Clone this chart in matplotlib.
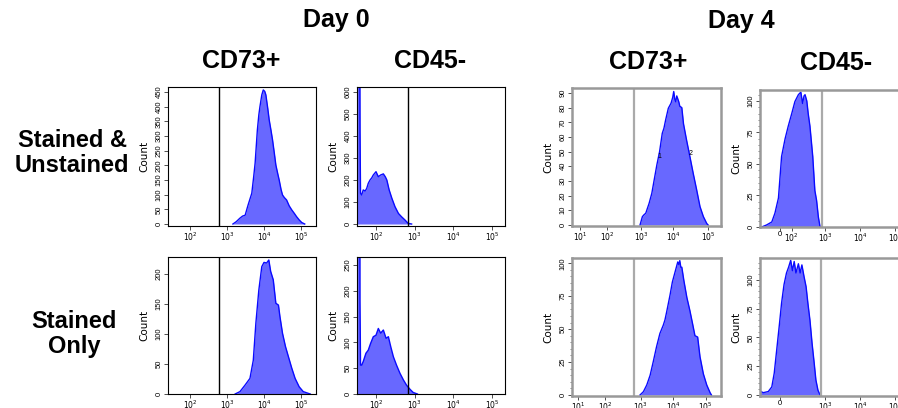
import numpy as np
import matplotlib.pyplot as plt
from matplotlib.ticker import FixedLocator, LogLocator, MultipleLocator, NullFormatter

plt.rcParams['font.family'] = ['Liberation Sans', 'DejaVu Sans']

# histogram traces: log10(intensity) and cell count
# Day 0, CD73+, stained & unstained
d0_cd73_a_log = [3.16, 3.25, 3.35, 3.42, 3.49, 3.57, 3.67, 3.72, 3.76, 3.82, 3.86, 3.89, 3.94,
                 3.98, 4.02, 4.05, 4.10, 4.14, 4.19, 4.23, 4.28, 4.32, 4.37, 4.41, 4.46, 4.50,
                 4.55, 4.61, 4.68, 4.75, 4.82, 4.88, 4.95, 5.02, 5.10]
d0_cd73_a_cnt = [0, 8, 20, 27, 30, 65, 105, 160, 208, 320, 372, 400, 440,
                 457, 452, 440, 395, 355, 318, 287, 240, 201, 172, 150, 118, 99,
                 90, 82, 62, 48, 36, 25, 14, 5, 0]
# Day 0, CD45-, stained & unstained
d0_cd45_a_log = [1.51, 1.52, 1.57, 1.587, 1.60, 1.63, 1.67, 1.72, 1.76, 1.80, 1.845, 1.89, 1.93,
                 2.00, 2.06, 2.12, 2.19, 2.24, 2.28, 2.34, 2.41, 2.49, 2.58, 2.66, 2.75,
                 2.83, 2.92]
d0_cd45_a_cnt = [1500, 1500, 1500, 427, 140, 132, 155, 150, 162, 185, 200, 210, 223,
                 238, 215, 223, 228, 215, 200, 155, 117, 79, 48, 33, 18,
                 3, 0]
# Day 4, CD73+, stained & unstained
d4_cd73_a_log = [2.98, 3.05, 3.10, 3.15, 3.25, 3.33, 3.40, 3.48, 3.56, 3.64, 3.69, 3.74, 3.82,
                 3.90, 3.95, 3.98, 4.01, 4.04, 4.07, 4.10, 4.13, 4.16, 4.22, 4.27, 4.36,
                 4.46, 4.56, 4.66, 4.76, 4.86, 4.96, 5.00]
d4_cd73_a_cnt = [0, 5.7, 7, 8, 14.8, 21.6, 30.7, 41, 50, 62.5, 66, 71.6, 79.6,
                 83, 87, 91, 86, 84, 88, 86, 84, 81, 80, 69, 58,
                 46.6, 35, 24, 12.5, 5.7, 1, 0]
# Day 4, CD45-, stained & unstained
d4_cd45_a_log = [1.19, 1.33, 1.48, 1.57, 1.67, 1.76, 1.86, 1.95, 2.05, 2.14, 2.24, 2.31, 2.36,
                 2.40, 2.43, 2.48, 2.52, 2.57, 2.65, 2.71, 2.76, 2.81, 2.86]
d4_cd45_a_cnt = [0, 1.6, 4, 11, 23, 56, 70, 80, 90, 99.5, 105, 107, 98,
                 104, 105, 100, 90, 80, 56, 29, 21, 8, 0]
# Day 0, CD73+, stained only
d0_cd73_b_log = [3.22, 3.35, 3.49, 3.62, 3.71, 3.78, 3.86, 3.94, 4.00, 4.07, 4.13, 4.18, 4.25,
                 4.32, 4.39, 4.43, 4.50, 4.58, 4.66, 4.75, 4.84, 4.95, 5.06, 5.20, 5.25]
d0_cd73_b_cnt = [0, 4, 15, 26, 56, 118, 173, 212, 219, 218, 223, 204, 190,
                 151, 148, 129, 101, 79, 62, 43, 26, 12, 4, 1, 0]
# Day 0, CD45-, stained only
d0_cd45_b_log = [1.51, 1.52, 1.57, 1.587, 1.60, 1.63, 1.67, 1.74, 1.80, 1.86, 1.93, 2.00, 2.06,
                 2.12, 2.19, 2.26, 2.32, 2.38, 2.45, 2.53, 2.62, 2.71, 2.79, 2.88, 2.96,
                 3.07]
d0_cd45_b_cnt = [2000, 2000, 2000, 182, 56, 56, 63, 79, 85, 98, 111, 114, 127,
                 118, 124, 108, 111, 92, 72, 56, 40, 27, 17, 9, 3,
                 0]
# Day 4, CD73+, stained only
d4_cd73_b_log = [2.98, 3.08, 3.18, 3.28, 3.37, 3.47, 3.57, 3.67, 3.72, 3.77, 3.87, 3.94, 4.02,
                 4.10, 4.13, 4.16, 4.19, 4.22, 4.28, 4.37, 4.46, 4.54, 4.61, 4.69, 4.76,
                 4.86, 4.96, 5.06, 5.10]
d4_cd73_b_cnt = [0, 2.5, 7.6, 15, 25, 36.6, 46.7, 53, 57, 63, 75.8, 85.8, 93.4,
                 101, 99, 102, 97, 97, 87, 74, 64, 54, 45, 44, 29,
                 16, 7.6, 1.7, 0]
# Day 4, CD45-, stained only
d4_cd45_b_log = [1.14, 1.16, 1.24, 1.38, 1.48, 1.55, 1.62, 1.70, 1.76, 1.83, 1.90, 1.96, 2.02,
                 2.07, 2.12, 2.17, 2.24, 2.29, 2.34, 2.40, 2.46, 2.51, 2.57, 2.63, 2.69,
                 2.74, 2.80, 2.86]
d4_cd45_b_cnt = [3, 3, 2, 3, 7, 19, 39, 62, 80, 96, 106, 111, 117,
                 108, 116, 106, 114, 106, 113, 103, 94, 80, 65, 45, 28,
                 13, 4, 0]

headers = ['Day 0', 'Day 4']
markers = ['CD73+', 'CD45-', 'CD73+', 'CD45-']
rows = ['Stained &\nUnstained', 'Stained\nOnly']

fill_c = '#6868ff'
line_c = '#0a0aff'

# (data, pixel box l,t,r,b, xlim exps, ylim, y step, gate exp, frame colour,
#  x tick exps, x tick labels, y minor step)
dec = ['$10^1$', '$10^2$', '$10^3$', '$10^4$', '$10^5$']
panels = [
    (d0_cd73_a_log, d0_cd73_a_cnt, (168, 87, 316, 226), (1.405, 5.405), (-6.8, 467), 50, 2.78, 'k',
     [2, 3, 4, 5], dec[1:], None),
    (d0_cd45_a_log, d0_cd45_a_cnt, (357, 87, 505, 226), (1.509, 5.333), (-9, 623), 100, 2.83, 'k',
     [2, 3, 4, 5], dec[1:], None),
    (d4_cd73_a_log, d4_cd73_a_cnt, (572, 88, 721, 226), (0.961, 5.383), (-0.7, 93.4), 10, 2.80, '#999999',
     [1.2, 2.0, 3.01, 3.96, 5.0], dec, None),
    (d4_cd45_a_log, d4_cd45_a_cnt, (760, 90, 909, 227), (1.143, 5.4), (0, 108.7), 25, 2.91, '#999999',
     [1.71, 2.05, 3, 4, 5], ['0'] + dec[1:], 5),
    (d0_cd73_b_log, d0_cd73_b_cnt, (168, 257, 316, 394), (1.405, 5.405), (0, 228), 50, 2.78, 'k',
     [2, 3, 4, 5], dec[1:], None),
    (d0_cd45_b_log, d0_cd45_b_cnt, (357, 257, 505, 394), (1.509, 5.333), (0, 265.5), 50, 2.83, 'k',
     [2, 3, 4, 5], dec[1:], None),
    (d4_cd73_b_log, d4_cd73_b_cnt, (572, 258, 721, 396), (0.961, 5.383), (-0.76, 104), 25, 2.80, '#999999',
     [1.14, 1.94, 3.0, 3.96, 4.93], dec, 5),
    (d4_cd45_b_log, d4_cd45_b_cnt, (760, 258, 909, 396), (1.143, 5.4), (-0.9, 119), 25, 2.88, '#999999',
     [1.71, 3, 4, 5], ['0'] + dec[2:], 5),
]

W, H = 898, 408
fig = plt.figure(figsize=(W / 100, H / 100), dpi=100)
axes = []

for (lg, cnt, box, xl, yl, ystep, gate, fc, xt, xtl, ymin) in panels:
    l, t, r, b = box
    ax = fig.add_axes([l / W, 1 - b / H, (r - l) / W, (b - t) / H])
    axes.append(ax)
    x = 10 ** np.array(lg)
    y = np.array(cnt)
    ax.fill_between(x, y, 0, color=fill_c, lw=0)
    ax.plot(x, y, color=line_c, lw=1)
    ax.set_xscale('log')
    ax.set_xlim(10 ** xl[0], 10 ** xl[1])
    ax.set_ylim(*yl)
    gate_lw = 1.0 if fc == 'k' else 1.6
    ax.axvline(10 ** gate, color=fc if fc == 'k' else '#aaaaaa', lw=gate_lw)
    for s in ax.spines.values():
        s.set_color(fc if fc == 'k' else '#999999')
        s.set_linewidth(0.8 if fc == 'k' else 1.8)

    ax.xaxis.set_major_locator(FixedLocator(10 ** np.array(xt)))
    ax.set_xticklabels(xtl, fontsize=5.5)
    ax.xaxis.set_minor_locator(LogLocator(base=10, subs=np.arange(2, 10)))
    ax.xaxis.set_minor_formatter(NullFormatter())
    ax.tick_params(axis='x', which='major', length=3, width=0.6, pad=0, colors='#333333',
                   labelcolor='k')
    ax.tick_params(axis='x', which='minor', length=1.6, width=0.5, colors='#555555')

    ax.yaxis.set_major_locator(MultipleLocator(ystep))
    if ymin:
        ax.yaxis.set_minor_locator(MultipleLocator(ymin))
    ax.tick_params(axis='y', which='major', length=3, width=0.6, pad=1, labelsize=5.5,
                   colors='#333333', labelcolor='k')
    ax.tick_params(axis='y', which='minor', length=1.5, width=0.5, colors='#555555')
    for lab in ax.get_yticklabels():
        lab.set_rotation(90)
        lab.set_va('center')
    ax.set_ylabel('Count', fontsize=7.5, family='DejaVu Sans')
    ax.yaxis.set_label_coords(-19 / (r - l), 0.5)

# small gate marks on the Day 4 CD73+ trace
axes[2].text(10 ** 3.55, 47, '1', fontsize=5, ha='center', va='center')
axes[2].text(10 ** 4.47, 49, '2', fontsize=5, ha='center', va='center')

# column and row titles
fig.text(336 / W, 1 - 20 / H, headers[0], ha='center', va='center', fontsize=18, fontweight='bold')
fig.text(741 / W, 1 - 21 / H, headers[1], ha='center', va='center', fontsize=18, fontweight='bold')
for xm, ym, m in zip([241, 430, 648, 836], [61, 61, 62, 63], markers):
    fig.text(xm / W, 1 - ym / H, m, ha='center', va='center', fontsize=18, fontweight='bold')
fig.text(72 / W, 1 - 153 / H, rows[0], ha='center', va='center', fontsize=17, fontweight='bold',
         linespacing=1.15)
fig.text(74 / W, 1 - 334 / H, rows[1], ha='center', va='center', fontsize=17, fontweight='bold',
         linespacing=1.15)

fig.savefig('out.png', dpi=100)
